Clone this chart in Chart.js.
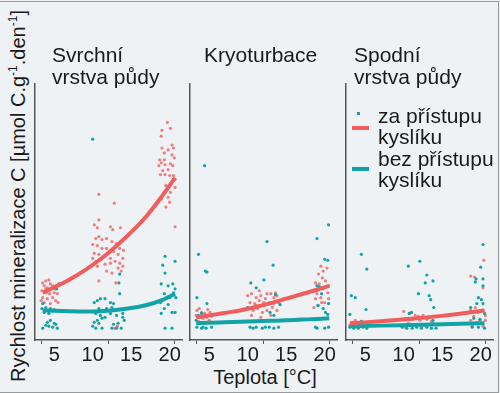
<!DOCTYPE html>
<html>
<head>
<meta charset="utf-8">
<script src="https://cdn.jsdelivr.net/npm/chart.js@4.4.0/dist/chart.umd.min.js"></script>
<style>
  body { margin: 0; width: 500px; height: 393px; background: #eff2f5; font-family: "Liberation Sans", Arial, sans-serif; color: #1a1a1a; overflow: hidden; position: relative; }
  #frame { position: absolute; left: 0; top: 1px; width: 498px; height: 390px; border-top: 1px solid #9a9a9a; border-right: 1px solid #9a9a9a; border-bottom: 1px solid #9a9a9a; }
  .panel { position: absolute; top: 80px; }
  .title { position: absolute; font-size: 21px; line-height: 22px; white-space: nowrap; }
  #ytitle { position: absolute; left: -182px; top: 184px; width: 400px; line-height: 24px; font-size: 20px; text-align: center; transform: rotate(-90deg); white-space: nowrap; }
  #ytitle sup { font-size: 12px; vertical-align: 8px; line-height: 0; }
  #xtitle { position: absolute; left: 165px; width: 200px; top: 365px; font-size: 20px; line-height: 24px; text-align: center; }
  #legend { position: absolute; left: 378px; top: 105px; font-size: 21px; line-height: 21.3px; }
  .sw { position: absolute; }
</style>
</head>
<body>
<div id="frame"></div>

<canvas id="p1" class="panel" width="155" height="285" style="left:31px"></canvas>
<canvas id="p2" class="panel" width="155" height="285" style="left:186px"></canvas>
<canvas id="p3" class="panel" width="155" height="285" style="left:342px"></canvas>

<div class="title" style="left:52px;top:44px">Svrchní<br>vrstva půdy</div>
<div class="title" style="left:204px;top:44px">Kryoturbace</div>
<div class="title" style="left:354px;top:44px">Spodní<br>vrstva půdy</div>

<div id="ytitle">Rychlost mineralizace C [µmol C.g<sup>-1</sup>.den<sup>-1</sup>]</div>
<div id="xtitle">Teplota [°C]</div>

<span class="sw" style="left:357px;top:112px;width:3px;height:3px;background:#12a3a6"></span>
<span class="sw" style="left:352px;top:126px;width:17px;height:3.5px;background:#ef5d5d"></span>
<span class="sw" style="left:352px;top:167px;width:17px;height:3.5px;background:#12a3a6"></span>
<div id="legend">za přístupu<br>kyslíku<br>bez přístupu<br>kyslíku</div>

<script>
// x = teplota [°C], y = rychlost (relativní jednotky, 0 = osa)
const tickValues = [5, 10, 15, 20];
const tickMarkValues = [3.3, 12, 20.6]; // krátké značky na ose (bez popisků)
const xMin = 2.5, xMax = 21.6;
const yMin = 0, yMax = 260;

// Svrchní vrstva půdy
const svrchniZa = [
  [3.5,58],[3.9,60],[4.3,61],[4.5,57],[3.7,55],[4.1,53],[4.8,55],[3.4,50],[4.0,48],[4.4,47],[5.0,48],[5.4,47],
  [3.5,43],[4.1,42],[4.8,43],[5.2,40],[5.5,38],[3.7,38],[4.5,37],[3.3,40],[3.9,52],[5.1,52],
  [10.8,148],[12.8,139],[10.8,122],[10.2,117],[10.6,114],[12.3,115],[12.6,112],[13.6,114],[10.8,105],[10.4,103],
  [11.2,102],[11.8,103],[10.0,97],[10.6,96],[11.2,93],[11.8,93],[12.5,100],[13.1,98],[13.5,93],[14.0,91],
  [10.2,88],[10.8,87],[11.4,85],[12.0,88],[12.7,90],[13.3,87],[13.9,83],[10.4,80],[11.0,82],[11.6,77],
  [12.3,78],[12.9,80],[13.5,78],[13.9,75],[10.6,75],[11.8,70],[12.5,68],[13.3,73],[13.7,70],[10.8,60],
  [13.0,58],[11.2,83],[10.0,83],[12.3,83],[12.9,12],[13.2,14],
  [19.7,221],[20.1,215],[19.0,213],[18.9,207],[20.3,198],[20.5,195],[19.0,195],[19.8,193],[19.3,190],[20.3,188],
  [18.7,183],[19.3,183],[20.6,185],[18.9,180],[19.4,178],[20.1,179],[18.6,177],[19.8,173],[19.1,172],[20.4,177],
  [18.8,168],[19.4,168],[20.0,167],[20.5,167],[20.7,163],[19.5,157],[20.1,150],[19.3,150],[19.8,145],[18.9,143],
  [20.0,140],[19.5,135],[20.7,155],[20.7,115]
];
const svrchniBez = [
  [10.0,204],
  [3.5,37],[3.9,33],[4.5,32],[5.0,31],[5.4,30],[3.7,28],[4.3,27],[3.4,32],[4.1,18],[4.5,20],[5.0,17],[3.9,15],
  [4.8,13],[5.4,12],[3.5,12],[4.3,14],[5.2,16],[5.6,57],[5.3,52],
  [10.2,38],[10.6,40],[11.0,42],[11.6,42],[12.3,38],[12.7,37],[13.5,47],[13.5,67],[13.4,58],[10.8,32],[11.2,30],
  [11.8,32],[12.5,33],[10.4,27],[11.0,25],[11.6,23],[12.3,27],[13.1,25],[13.9,27],[10.2,18],[10.6,20],[11.2,22],
  [10.8,17],[10.0,14],[10.4,12],[11.2,12],[12.5,12],[13.1,12],[13.7,12],[12.7,16],[13.3,17],[13.9,23],[14.1,20],
  [19.4,85],[20.7,80],[19.1,76],[19.4,68],[18.9,57],[19.8,55],[20.4,57],[20.7,52],[20.5,48],[19.3,47],[20.0,43],
  [20.8,43],[19.3,32],[19.8,36],[18.9,27],[20.3,28],[20.7,28],[18.8,38],[19.4,12],[20.3,12]
];
const svrchniTrendT = [3.5, 5, 7, 9, 11, 13, 15, 17, 19, 20.7];
const svrchniTrendZa = [48, 53.5, 61.5, 71, 82, 95, 109.5, 126, 146, 165];
const svrchniTrendBez = [30, 29.6, 29.2, 29, 29.3, 30.5, 32.5, 35.5, 40.5, 47];

// Kryoturbace
const kryoZa = [
  [3.4,30],[3.7,32],[4.0,28],[4.4,27],[4.8,31],[5.1,28],[3.3,25],[3.8,23],[4.2,22],[4.7,23],[5.3,24],[3.6,19],
  [4.4,18],[5.0,20],[4.0,17],[5.4,25],
  [10.0,45],[10.5,47],[11.1,43],[11.7,45],[12.3,42],[13.0,47],[13.4,43],[13.8,45],[10.3,38],[10.9,37],[11.5,40],
  [12.1,35],[12.8,38],[13.4,37],[14.0,38],[10.0,33],[10.7,30],[11.3,32],[11.9,28],[12.5,30],[13.2,33],[13.8,30],
  [10.5,25],[11.7,23],[13.0,25],[12.1,38],[11.1,35],[12.5,47],[11.5,50],[13.6,48],
  [19.5,75],[19.8,70],[20.3,73],[19.2,67],[19.7,63],[20.1,60],[18.8,58],[19.3,57],[20.5,55],[18.6,50],[19.0,47],
  [19.8,52],[20.4,48],[18.8,42],[19.5,43],[20.0,38],[19.2,35],[18.6,33],[20.5,42],[19.6,38]
];
const kryoBez = [
  [4.4,177],[3.6,87],[4.5,70],[4.7,69],[3.4,43],[4.7,37],[3.6,25],[4.0,27],[3.3,20],
  [3.4,13],[4.0,12],[4.2,13],[4.6,12],[5.3,13],
  [12.5,100],[10.4,58],[12.1,61],[13.3,76],[11.1,53],[14.2,36],[13.6,46],[10.0,33],[12.9,28],[13.4,25],
  [10.3,13],[10.7,12],[11.1,13],[11.9,12],[12.3,13],[12.8,13],[13.4,12],[14.0,13],
  [20.5,117],[19.0,103],[20.0,82],[20.4,81],[19.0,55],[19.3,54],[19.6,47],[20.5,37],[19.1,35],[19.8,32],[20.1,28],
  [20.4,26],[18.8,13],[19.0,12],[20.0,12],[20.5,13]
];
const kryoTrendT = [3.3, 5, 7, 9, 11, 13, 15, 17, 19, 20.6];
const kryoTrendZa = [23, 25, 27.5, 30, 33.5, 37.5, 42, 46.5, 51, 55];
const kryoTrendBez = [17, 17.5, 18, 18.5, 19, 19.5, 20, 20.7, 21.3, 22];

// Spodní vrstva půdy
const spodniZa = [
  [3.3,18],[3.7,20],[4.1,17],[4.5,19],[4.9,17],[3.0,15],[3.9,14],[4.7,14],[3.5,13],
  [10.0,29],[10.8,27],[11.5,25],[11.9,24],[12.5,25],[13.2,23],[13.8,24],[10.2,22],[11.1,21],[12.1,20],[13.0,21],
  [13.6,19],[10.6,17],[11.7,16],[12.7,15],[13.8,17],[10.2,13],[12.3,13],
  [20.4,81],[18.7,65],[19.2,64],[20.3,53],[19.3,33],[18.7,30],[19.7,28],[20.3,30],[19.1,24],[20.6,25],[19.9,20],
  [18.7,20],[19.5,18],[20.6,20],[18.9,14],[20.3,14]
];
const spodniBez = [
  [4.5,87],[5.2,72],[3.2,45],[3.7,43],[5.1,31],[3.0,26],[4.5,19],
  [3.0,13],[3.5,12],[4.1,12],[4.7,13],[5.2,12],
  [10.6,75],[12.1,80],[13.0,66],[12.8,58],[13.8,60],[11.9,47],[13.3,45],[13.5,41],[13.9,33],[11.0,28],[10.7,27],
  [13.8,20],[9.8,13],[10.4,12],[11.1,12],[11.7,13],[12.3,12],[13.0,13],[13.6,12],[14.2,12],
  [20.3,97],[20.0,74],[20.3,62],[19.4,62],[19.3,59],[20.3,55],[19.7,43],[20.1,41],[19.5,37],[20.3,37],[18.7,33],
  [20.5,27],[19.1,22],[19.9,21],[20.5,12],[19.7,13],[18.9,13]
];
const spodniTrendT = [3.0, 7, 11, 15, 20.5];
const spodniTrendZa = [17, 19, 21.5, 24.5, 30];
const spodniTrendBez = [14, 14.6, 15.3, 16, 17];

const RED = "#ef5d5d", RED_PT = "rgba(240,96,100,0.8)", TEAL = "#12a3a6";
const pts = arr => arr.map(p => ({ x: p[0], y: p[1] }));
const curve = (ts, ys) => ts.map((t, i) => ({ x: t, y: ys[i] }));

function makePanel(id, za, bez, trendT, trendZa, trendBez) {
  new Chart(document.getElementById(id), {
    type: "scatter",
    data: {
      datasets: [
        { type: "line", data: curve(trendT, trendZa), borderColor: RED, borderWidth: 4, pointRadius: 0, cubicInterpolationMode: "monotone", order: 0 },
        { type: "line", data: curve(trendT, trendBez), borderColor: TEAL, borderWidth: 4, pointRadius: 0, cubicInterpolationMode: "monotone", order: 1 },
        { data: pts(bez), backgroundColor: TEAL, pointRadius: 1.6, pointBorderWidth: 0, order: 2 },
        { data: pts(za), backgroundColor: RED_PT, pointRadius: 1.6, pointBorderWidth: 0, order: 3 },
      ],
    },
    options: {
      responsive: false,
      animation: false,
      devicePixelRatio: 1,
      layout: { padding: { left: 2, right: 0, top: 0, bottom: 0 } },
      plugins: { legend: { display: false }, tooltip: { enabled: false } },
      scales: {
        // tick marks sit right on the axis line
        marks: {
          type: "linear",
          position: "bottom",
          weight: -1,
          min: xMin,
          max: xMax,
          afterBuildTicks: s => { s.ticks = tickMarkValues.map(v => ({ value: v })); },
          afterFit: s => { s.height = 4; },
          grid: { display: true, drawOnChartArea: false, drawTicks: true, tickLength: 4, color: "#555", lineWidth: 1 },
          border: { display: true, color: "#555", width: 1.5 },
          ticks: { display: false },
        },
        x: {
          type: "linear",
          min: xMin,
          max: xMax,
          afterBuildTicks: s => { s.ticks = tickValues.map(v => ({ value: v })); },
          afterFit: s => { s.height = 21; },
          grid: { display: false, drawTicks: false },
          border: { display: false },
          ticks: { color: "#1a1a1a", padding: -1, font: { family: "Liberation Sans", size: 20 } },
        },
        y: {
          min: yMin,
          max: yMax,
          afterFit: s => { s.width = 0; },
          grid: { display: false, drawTicks: false },
          border: { display: true, color: "#555", width: 1.5 },
          ticks: { display: false },
        },
      },
    },
  });
}

makePanel("p1", svrchniZa, svrchniBez, svrchniTrendT, svrchniTrendZa, svrchniTrendBez);
makePanel("p2", kryoZa, kryoBez, kryoTrendT, kryoTrendZa, kryoTrendBez);
makePanel("p3", spodniZa, spodniBez, spodniTrendT, spodniTrendZa, spodniTrendBez);
</script>
</body>
</html>
